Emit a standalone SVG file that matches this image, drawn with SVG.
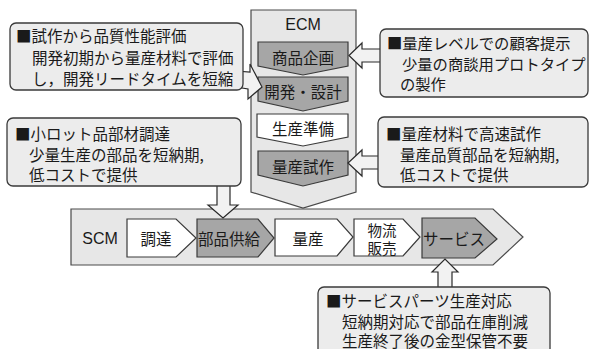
<svg xmlns="http://www.w3.org/2000/svg" width="590" height="349" viewBox="0 0 590 349">
<style>
.bg{fill:#e7e7e7;stroke:#4a4a4a;stroke-width:1.2}
.dk{fill:#a6a6a6;stroke:#3a3a3a;stroke-width:1.2}
.wh{fill:#ffffff;stroke:#3a3a3a;stroke-width:1.2}
.co{fill:#ececec;stroke:#3a3a3a;stroke-width:1.3}
.ar{fill:#f2f2f2;stroke:#2a2a2a;stroke-width:1.2;stroke-linejoin:miter}
text{font-family:"Noto Sans CJK JP","Liberation Sans",sans-serif;font-size:15.5px;fill:#1a1a1a;dominant-baseline:central}
.lat{font-family:"Liberation Sans","Noto Sans CJK JP",sans-serif;font-size:16px}
.c{text-anchor:middle}
.sm{font-size:14.5px}
</style>
<rect width="590" height="349" fill="#ffffff"/>

<g id="ecm">
<polygon class="bg" points="251,10 356,10 356,192 303,208 251,192"/>
<text class="lat c" x="303" y="24">ECM</text>
</g>
<g id="scm">
<polygon class="bg" points="71,209 493,209 523,237 493,265 71,265"/>
<text class="lat c" x="100" y="238">SCM</text>
</g>

<g id="ecm-shohin">
<polygon class="dk" points="258,42 348,42 348,66 303,75 258,66"/>
<text class="c" x="303" y="57">商品企画</text>
</g>
<g id="ecm-kaihatsu">
<polygon class="dk" points="258,77 348,77 348,101 303,111 258,101"/>
<text class="c" x="303" y="91">開発・設計</text>
</g>
<g id="ecm-junbi">
<polygon class="wh" points="257,114 348,114 348,137 303,146 257,137"/>
<text class="c" x="303" y="128">生産準備</text>
</g>
<g id="ecm-shisaku">
<polygon class="dk" points="258,151 348,151 348,175 303,186 258,175"/>
<text class="c" x="303" y="166">量産試作</text>
</g>

<g id="scm-chotatsu">
<polygon class="wh" points="127,219 176,219 196,238 176,257 127,257"/>
<text class="c" x="156" y="238">調達</text>
</g>
<g id="scm-buhin">
<polygon class="dk" points="197,219 258,219 274,238 258,257 197,257"/>
<text class="c" x="229" y="238">部品供給</text>
</g>
<g id="scm-ryosan">
<polygon class="wh" points="275,219 337,219 353,237 337,256 275,256"/>
<text class="c" x="308" y="238">量産</text>
</g>
<g id="scm-butsuryu">
<polygon class="wh" points="354,219 403,219 420,237 403,256 354,256"/>
<text class="c sm" x="382" y="229.5">物流</text>
<text class="c sm" x="382" y="247.5">販売</text>
</g>
<g id="scm-service">
<polygon class="dk" points="422,218 475,218 497,239 475,258 422,258"/>
<text class="c" x="454" y="238">サービス</text>
</g>

<g id="connectors">
<polygon class="ar" points="236,71 250,72 250,64 262,87 248,99 248,89 236,87"/>
<polygon class="ar" points="382,49 362,49 362,43 349,55.5 362,68 362,62 382,62"/>
<polygon class="ar" points="380,156 362,156 362,150 348,163 362,176 362,169 380,169"/>
<polygon class="ar" points="217,184 230,184 230,205 238,205 223,218 208,205 217,205"/>
<polygon class="ar" points="438,289 438,272 432,272 445,259 458,272 452,272 452,289"/>
</g>

<g id="callout-tl">
<rect class="co" x="10" y="23" width="233" height="67" rx="6"/>
<text x="16" y="35">■試作から品質性能評価</text>
<text x="32" y="57">開発初期から量産材料で評価</text>
<text x="32" y="78">し，開発リードタイムを短縮</text>
</g>
<g id="callout-tr">
<rect class="co" x="380" y="29" width="208" height="68" rx="6"/>
<text x="387" y="42" style="font-size:15.3px">■量産レベルでの顧客提示</text>
<text x="402" y="63" style="font-size:15.3px">少量の商談用プロトタイプ</text>
<text x="400" y="83" style="font-size:15.3px">の製作</text>
</g>
<g id="callout-ml">
<rect class="co" x="7" y="118" width="234" height="68" rx="6"/>
<text x="15" y="133">■小ロット品部材調達</text>
<text x="29" y="154">少量生産の部品を短納期,</text>
<text x="29" y="174">低コストで提供</text>
</g>
<g id="callout-mr">
<rect class="co" x="378" y="117" width="210" height="70" rx="6"/>
<text x="386" y="133">■量産材料で高速試作</text>
<text x="400" y="154">量産品質部品を短納期,</text>
<text x="400" y="174">低コストで提供</text>
</g>
<g id="callout-b">
<rect class="co" x="318" y="287" width="232" height="80" rx="6"/>
<text x="326" y="300">■サービスパーツ生産対応</text>
<text x="342" y="321">短納期対応で部品在庫削減</text>
<text x="342" y="340">生産終了後の金型保管不要</text>
</g>
</svg>
